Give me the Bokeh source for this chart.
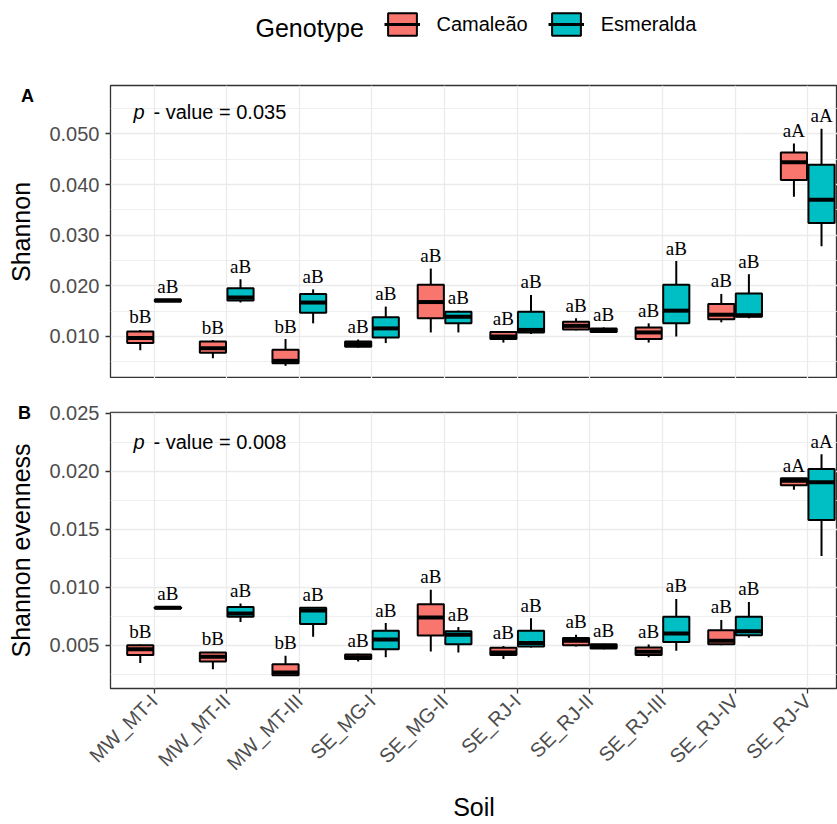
import math
from bokeh.plotting import figure
from bokeh.models import (Range1d, FixedTicker, Label, Legend, LegendItem,
                          ColumnDataSource, NumeralTickFormatter)
from bokeh.layouts import column
from bokeh.embed import file_html
from bokeh.resources import INLINE
from bokeh.core.properties import value

# ---------------- data ----------------
soils = ["MW_MT-I", "MW_MT-II", "MW_MT-III", "SE_MG-I", "SE_MG-II",
         "SE_RJ-I", "SE_RJ-II", "SE_RJ-III", "SE_RJ-IV", "SE_RJ-V"]
genotypes = ["Camaleão", "Esmeralda"]
geno_colors = ["#F8766D", "#00BFC4"]

# Panel A: Shannon  (lower whisker, Q1, median, Q3, upper whisker)
sh_cam_lo  = [0.0073, 0.0057, 0.0042, 0.0078, 0.0108, 0.0088, 0.0112, 0.0088, 0.0128, 0.0376]
sh_cam_q1  = [0.0087, 0.0068, 0.0047, 0.0080, 0.0136, 0.0095, 0.0114, 0.0095, 0.0134, 0.0409]
sh_cam_med = [0.0097, 0.0077, 0.0052, 0.0085, 0.0168, 0.0100, 0.0121, 0.0108, 0.0143, 0.0444]
sh_cam_q3  = [0.0110, 0.0090, 0.0074, 0.0090, 0.0202, 0.0109, 0.0129, 0.0118, 0.0164, 0.0463]
sh_cam_hi  = [0.0113, 0.0093, 0.0095, 0.0094, 0.0234, 0.0110, 0.0136, 0.0126, 0.0184, 0.0481]

sh_esm_lo  = [0.0168, 0.0167, 0.0126, 0.0087, 0.0108, 0.0105, 0.0107, 0.0100, 0.0136, 0.0278]
sh_esm_q1  = [0.0169, 0.0171, 0.0147, 0.0098, 0.0126, 0.0108, 0.0109, 0.0126, 0.0139, 0.0324]
sh_esm_med = [0.0171, 0.0177, 0.0167, 0.0116, 0.0139, 0.0113, 0.0112, 0.0151, 0.0142, 0.0370]
sh_esm_q3  = [0.0173, 0.0195, 0.0184, 0.0138, 0.0149, 0.0149, 0.0116, 0.0202, 0.0185, 0.0439]
sh_esm_hi  = [0.0174, 0.0213, 0.0193, 0.0159, 0.0151, 0.0182, 0.0118, 0.0249, 0.0223, 0.0510]

# Panel B: Shannon evenness
ev_cam_lo  = [0.00348, 0.00292, 0.00236, 0.00360, 0.00447, 0.00382, 0.00489, 0.00396, 0.00500, 0.01841]
ev_cam_q1  = [0.00416, 0.00360, 0.00242, 0.00382, 0.00584, 0.00416, 0.00500, 0.00416, 0.00508, 0.01880]
ev_cam_med = [0.00466, 0.00400, 0.00265, 0.00396, 0.00739, 0.00438, 0.00539, 0.00445, 0.00540, 0.01920]
ev_cam_q3  = [0.00500, 0.00438, 0.00337, 0.00421, 0.00854, 0.00478, 0.00562, 0.00480, 0.00629, 0.01940]
ev_cam_hi  = [0.00506, 0.00444, 0.00410, 0.00427, 0.00978, 0.00494, 0.00590, 0.00506, 0.00719, 0.01940]

ev_esm_lo  = [0.00815, 0.00700, 0.00573, 0.00396, 0.00438, 0.00480, 0.00466, 0.00452, 0.00565, 0.01271]
ev_esm_q1  = [0.00818, 0.00747, 0.00683, 0.00466, 0.00508, 0.00489, 0.00472, 0.00528, 0.00587, 0.01581]
ev_esm_med = [0.00823, 0.00775, 0.00800, 0.00550, 0.00590, 0.00520, 0.00492, 0.00601, 0.00620, 0.01907]
ev_esm_q3  = [0.00828, 0.00831, 0.00823, 0.00626, 0.00621, 0.00626, 0.00508, 0.00747, 0.00747, 0.02020]
ev_esm_hi  = [0.00832, 0.00860, 0.00823, 0.00691, 0.00657, 0.00733, 0.00514, 0.00900, 0.00874, 0.02147]

# significance letters
sh_cam_letters = ["bB", "bB", "bB", "aB", "aB", "aB", "aB", "aB", "aB", "aA"]
sh_esm_letters = ["aB", "aB", "aB", "aB", "aB", "aB", "aB", "aB", "aB", "aA"]
ev_cam_letters = ["bB", "bB", "bB", "aB", "aB", "aB", "aB", "aB", "aB", "aA"]
ev_esm_letters = ["aB", "aB", "aB", "aB", "aB", "aB", "aB", "aB", "aB", "aA"]

sh_ticks = [0.010, 0.020, 0.030, 0.040, 0.050]
sh_minor = [0.005, 0.015, 0.025, 0.035, 0.045, 0.055]
ev_ticks = [0.005, 0.010, 0.015, 0.020, 0.025]
ev_minor = [0.0025, 0.0075, 0.0125, 0.0175, 0.0225]

sh_pvalue = "0.035"
ev_pvalue = "0.008"

# ---------------- styling ----------------
SANS = "Liberation Sans"
SERIF = "Liberation Serif"
GRID = "#EBEBEB"
BORDER = "#333333"
TICKLAB = "#4D4D4D"
DODGE = 0.19
BOXW = 0.36
LW = 2.0
MEDW = 4.0
LEFT = 110

x_range = Range1d(0.4, 10.41)
cat_ticks = list(range(1, len(soils) + 1))


def draw_boxes(p, stats, color, letters, offset):
    lo, q1, med, q3, hi = stats
    xs = [i + 1 + offset for i in range(len(soils))]
    src = ColumnDataSource(dict(
        x=xs, left=[x - BOXW / 2 for x in xs], right=[x + BOXW / 2 for x in xs],
        lo=lo, q1=q1, med=med, q3=q3, hi=hi, lab=letters))
    p.segment(x0="x", y0="q3", x1="x", y1="hi", source=src, line_color="black", line_width=LW)
    p.segment(x0="x", y0="lo", x1="x", y1="q1", source=src, line_color="black", line_width=LW)
    p.vbar(x="x", width=BOXW, bottom="q1", top="q3", source=src,
           fill_color=color, line_color="black", line_width=LW)
    p.segment(x0="left", y0="med", x1="right", y1="med", source=src,
              line_color="black", line_width=MEDW, line_cap="butt")
    p.text(x="x", y="hi", text="lab", source=src, text_align="center",
           text_baseline="alphabetic", y_offset=-13,
           text_font=value(SERIF), text_font_size="19px", text_color="black")


def style_panel(p, ticks, minor, ylabel):
    p.outline_line_color = BORDER
    p.outline_line_width = 1.3
    p.background_fill_color = "white"
    p.border_fill_color = "white"
    p.xgrid.ticker = FixedTicker(ticks=cat_ticks)
    p.xgrid.grid_line_color = GRID
    p.xgrid.grid_line_width = 1.3
    yax = p.yaxis[0]
    yax.ticker = FixedTicker(ticks=ticks, minor_ticks=minor)
    yax.formatter = NumeralTickFormatter(format="0.000")
    yax.axis_line_color = None
    yax.major_tick_line_color = BORDER
    yax.major_tick_line_width = 1.3
    yax.major_tick_out = 5
    yax.major_tick_in = 0
    yax.minor_tick_line_color = None
    yax.major_label_text_font = SANS
    yax.major_label_text_font_size = "20px"
    yax.major_label_text_color = TICKLAB
    yax.major_label_standoff = 6
    yax.axis_label = ylabel
    yax.axis_label_text_font = SANS
    yax.axis_label_text_font_size = "25px"
    yax.axis_label_text_font_style = "normal"
    yax.axis_label_text_color = "black"
    yax.axis_label_standoff = 11
    p.ygrid.grid_line_color = GRID
    p.ygrid.grid_line_width = 1.3
    p.ygrid.minor_grid_line_color = GRID
    p.ygrid.minor_grid_line_width = 0.8


def add_pvalue(p, x, y, pv):
    p.add_layout(Label(x=x, y=y, text="p", text_font=SANS, text_font_style="italic",
                       text_font_size="20px", text_baseline="middle", text_color="black"))
    p.add_layout(Label(x=x + 0.275, y=y, text="- value = " + pv, text_font=SANS,
                       text_font_size="20px", text_baseline="middle", text_color="black"))


def side_label(x, y, text, size, style="normal", align="center"):
    return Label(x=x, y=y, x_units="screen", y_units="screen", text=text,
                 text_font=SANS, text_font_style=style, text_font_size=size,
                 text_align=align, text_baseline="middle", text_color="black")


# ---------------- header with legend ----------------
HEAD_H = 60
pH = figure(width=837, height=HEAD_H, x_range=Range1d(LEFT, 837), y_range=Range1d(0, HEAD_H),
            x_axis_location=None, y_axis_location=None, toolbar_location=None,
            output_backend="svg", min_border_left=LEFT, min_border_right=0,
            min_border_top=0, min_border_bottom=0)
pH.outline_line_color = None
pH.xgrid.visible = False
pH.ygrid.visible = False
nan = float("nan")
legend_items = []
for g, c in zip(genotypes, geno_colors):
    dummy = ColumnDataSource(dict(x=[nan], b=[nan], t=[nan]))
    rb = pH.vbar(x="x", width=1, bottom="b", top="t", source=dummy,
                 fill_color=c, line_color="black", line_width=LW)
    rm = pH.segment(x0="x", y0="b", x1="x", y1="t", source=dummy,
                    line_color="black", line_width=MEDW * 0.8)
    legend_items.append(LegendItem(label=g, renderers=[rb, rm]))
legend = Legend(items=legend_items, orientation="horizontal", location=(383.5 - LEFT, 22),
                glyph_width=36, glyph_height=28, label_standoff=17, spacing=20,
                padding=0, margin=0, border_line_color=None, background_fill_alpha=0,
                label_text_font=SANS, label_text_font_size="20px",
                label_text_color="black", label_height=28)
pH.add_layout(legend, "center")
pH.add_layout(Label(x=255, y=HEAD_H - 27, text="Genotype", text_font=SANS,
                    text_font_size="25px", text_baseline="middle", text_color="black"))

# ---------------- panel A ----------------
pA = figure(width=837, height=378 - HEAD_H, x_range=x_range, y_range=Range1d(0.00171, 0.05954),
            x_axis_location=None, toolbar_location=None, output_backend="svg",
            min_border_left=LEFT, min_border_right=0, min_border_top=85 - HEAD_H,
            min_border_bottom=0)
style_panel(pA, sh_ticks, sh_minor, "Shannon")
draw_boxes(pA, (sh_cam_lo, sh_cam_q1, sh_cam_med, sh_cam_q3, sh_cam_hi),
           geno_colors[0], sh_cam_letters, -DODGE)
draw_boxes(pA, (sh_esm_lo, sh_esm_q1, sh_esm_med, sh_esm_q3, sh_esm_hi),
           geno_colors[1], sh_esm_letters, DODGE)
add_pvalue(pA, 0.716, 0.0544, sh_pvalue)
pA.add_layout(side_label(-83, -10, "A", "18px", style="bold"), "above")

# ---------------- panel B ----------------
pB = figure(width=837, height=446, x_range=x_range, y_range=Range1d(0.00127, 0.02508),
            toolbar_location=None, output_backend="svg",
            min_border_left=LEFT, min_border_right=0, min_border_top=34, min_border_bottom=131)
style_panel(pB, ev_ticks, ev_minor, "Shannon evenness")
draw_boxes(pB, (ev_cam_lo, ev_cam_q1, ev_cam_med, ev_cam_q3, ev_cam_hi),
           geno_colors[0], ev_cam_letters, -DODGE)
draw_boxes(pB, (ev_esm_lo, ev_esm_q1, ev_esm_med, ev_esm_q3, ev_esm_hi),
           geno_colors[1], ev_esm_letters, DODGE)
add_pvalue(pB, 0.716, 0.0225, ev_pvalue)
pB.add_layout(side_label(-86, 0, "B", "18px", style="bold"), "above")

xax = pB.xaxis[0]
xax.ticker = FixedTicker(ticks=cat_ticks)
xax.major_label_overrides = {t: s for t, s in zip(cat_ticks, soils)}
xax.major_label_orientation = math.pi / 4
xax.axis_line_color = None
xax.major_tick_line_color = BORDER
xax.major_tick_line_width = 1.3
xax.major_tick_out = 5
xax.major_tick_in = 0
xax.minor_tick_line_color = None
xax.major_label_text_font = SANS
xax.major_label_text_font_size = "20px"
xax.major_label_text_color = TICKLAB
xax.major_label_standoff = 4
xax.axis_label = "Soil"
xax.axis_label_text_font = SANS
xax.axis_label_text_font_size = "25px"
xax.axis_label_text_font_style = "normal"
xax.axis_label_text_color = "black"
xax.axis_label_standoff = 8

layout = column(pH, pA, pB, spacing=0)
open("out.html", "w").write(file_html(layout, INLINE))
